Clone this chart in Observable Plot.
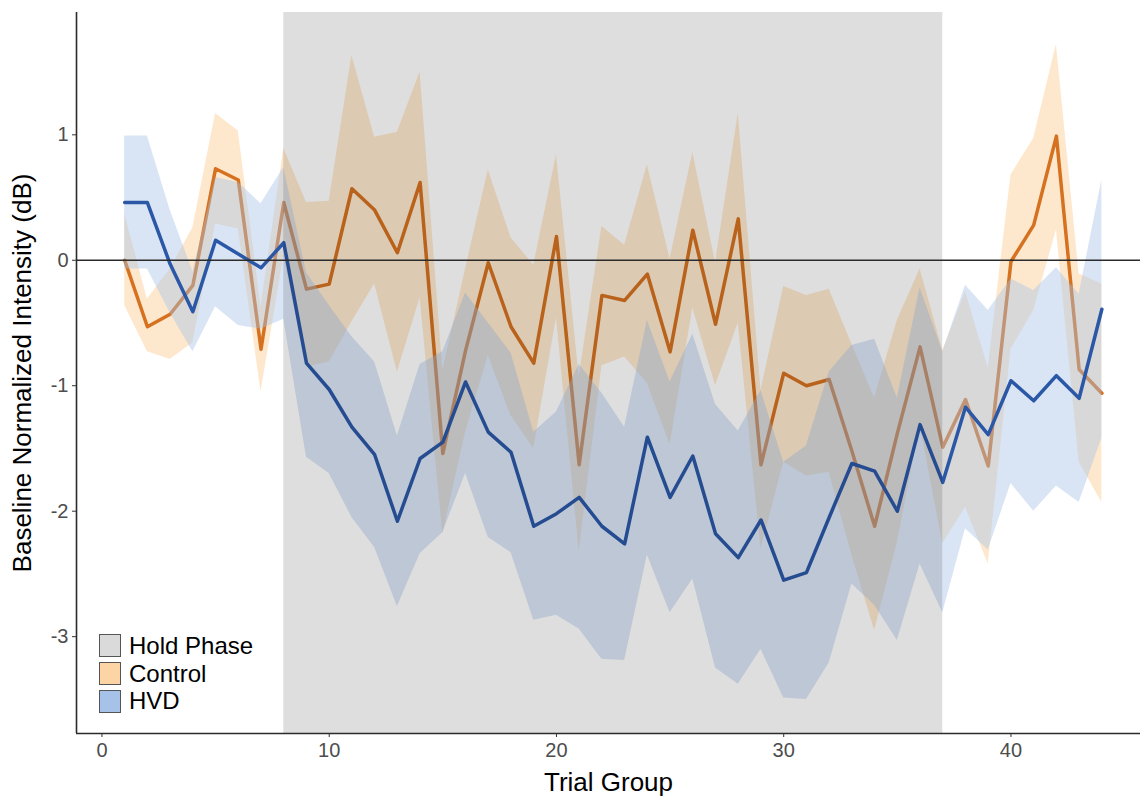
<!DOCTYPE html>
<html>
<head>
<meta charset="utf-8">
<script src="https://cdn.jsdelivr.net/npm/d3@7"></script>
<script src="https://cdn.jsdelivr.net/npm/@observablehq/plot@0.6"></script>
<style>
  body { margin: 0; background: #fff; font-family: "Liberation Sans", Arial, sans-serif; }
  #wrap { position: relative; width: 1142px; height: 796px; }
  #legend { position: absolute; left: 99px; top: 632px; }
  .row { display: flex; align-items: center; height: 27.8px; }
  .key { width: 20px; height: 21px; border: 1.5px solid #555; box-sizing: content-box; }
  .lab { display: inline-block; font-size: 24px; color: #000; margin-left: 8px; height: 24px; line-height: 24px; white-space: nowrap; }
</style>
</head>
<body>
<div id="wrap"></div>
<script>
// ---- data ----
const trials = d3.range(1, 45);
const control = [0.00, -0.53, -0.43, -0.20, 0.73, 0.64, -0.71, 0.46, -0.23, -0.19, 0.57, 0.40, 0.06, 0.62, -1.54, -0.72, -0.02, -0.53, -0.82, 0.19, -1.63, -0.28, -0.32, -0.11, -0.73, 0.24, -0.51, 0.33, -1.63, -0.90, -1.00, -0.95, -1.52, -2.12, -1.38, -0.69, -1.49, -1.11, -1.64, -0.01, 0.28, 0.99, -0.87, -1.06];
const controlHi = [0.37, -0.31, -0.07, 0.26, 1.17, 1.03, -0.37, 0.89, 0.46, 0.47, 1.63, 0.98, 1.02, 1.50, -0.88, -0.07, 0.72, 0.18, -0.04, 0.84, -0.93, 0.27, 0.12, 0.76, 0.01, 0.86, -0.02, 1.17, -1.04, -0.21, -0.28, -0.23, -0.67, -1.10, -0.48, -0.07, -0.72, -0.25, -0.86, 0.68, 0.97, 1.72, -0.11, -0.19];
const controlLo = [-0.36, -0.73, -0.79, -0.66, 0.29, 0.25, -1.05, 0.03, -0.85, -0.81, -0.49, -0.19, -0.89, -0.30, -2.18, -1.37, -0.76, -1.24, -1.50, -0.46, -2.32, -0.84, -0.77, -0.98, -1.47, -0.38, -1.00, -0.50, -2.30, -1.61, -1.72, -1.69, -2.35, -2.95, -2.25, -1.31, -2.26, -1.97, -2.42, -0.71, -0.40, 0.24, -1.61, -1.93];
const hvd = [0.46, 0.46, -0.03, -0.41, 0.16, 0.05, -0.06, 0.14, -0.82, -1.03, -1.33, -1.55, -2.08, -1.58, -1.45, -0.97, -1.37, -1.53, -2.12, -2.02, -1.89, -2.12, -2.26, -1.41, -1.89, -1.56, -2.18, -2.37, -2.07, -2.55, -2.49, -2.05, -1.62, -1.68, -2.00, -1.31, -1.77, -1.17, -1.39, -0.96, -1.12, -0.92, -1.10, -0.39];
const hvdHi = [0.99, 0.99, 0.40, -0.09, 0.66, 0.62, 0.45, 0.74, -0.10, -0.36, -0.61, -0.81, -1.40, -0.83, -0.73, -0.26, -0.50, -0.74, -1.37, -1.21, -0.83, -1.06, -1.33, -0.48, -0.97, -0.59, -1.15, -1.36, -1.04, -1.61, -1.48, -0.89, -0.68, -0.63, -1.10, -0.22, -0.73, -0.20, -0.40, -0.15, -0.24, -0.06, -0.27, 0.64];
const hvdLo = [-0.07, -0.07, -0.42, -0.73, -0.37, -0.52, -0.55, -0.47, -1.57, -1.70, -2.05, -2.29, -2.76, -2.34, -2.17, -1.70, -2.21, -2.33, -2.87, -2.83, -2.94, -3.18, -3.19, -2.35, -2.81, -2.54, -3.25, -3.38, -3.10, -3.49, -3.50, -3.21, -2.58, -2.75, -3.03, -2.42, -2.81, -2.14, -2.31, -1.78, -2.00, -1.80, -1.93, -1.42];
const holdPhase = [{start: 8, end: 37}];
const xTicks = [0, 10, 20, 30, 40];
const yTicks = [-3, -2, -1, 0, 1];
const xDomain = [-1.12, 45.7];
const yDomain = [-3.772, 1.975];
const xTitle = "Trial Group";
const yTitle = "Baseline Normalized Intensity (dB)";
const legendItems = [
  {label: "Hold Phase", color: "#dadada"},
  {label: "Control", color: "#fdd5a4"},
  {label: "HVD", color: "#a6c2e8"}
];

const ctl = trials.map((t, i) => ({t, y: control[i], lo: controlLo[i], hi: controlHi[i]}));
const hv = trials.map((t, i) => ({t, y: hvd[i], lo: hvdLo[i], hi: hvdHi[i]}));

const ORANGE = "#d5711f", BLUE = "#2b57a7";

const chart = Plot.plot({
  width: 1142,
  height: 796,
  marginLeft: 76,
  marginRight: 2,
  marginTop: 12,
  marginBottom: 63,
  style: {fontFamily: "'Liberation Sans', Arial, sans-serif", background: "#fff"},
  x: {domain: xDomain},
  y: {domain: yDomain},
  marks: [
    Plot.areaY(ctl, {x: "t", y1: "lo", y2: "hi", fill: "#fdd5a4", fillOpacity: 0.55}),
    Plot.line(ctl, {x: "t", y: "y", stroke: ORANGE, strokeWidth: 3.5}),
    Plot.areaY(hv, {x: "t", y1: "lo", y2: "hi", fill: "#a6c2e8", fillOpacity: 0.43}),
    Plot.line(hv, {x: "t", y: "y", stroke: BLUE, strokeWidth: 3.5}),
    Plot.rect(holdPhase, {x1: "start", x2: "end", fill: "black", fillOpacity: 0.13}),
    Plot.ruleY([0], {stroke: "#2b2b2b", strokeWidth: 1.4}),
    Plot.ruleX([xDomain[0]], {stroke: "#2b2b2b", strokeWidth: 1.6}),
    Plot.ruleY([yDomain[0]], {stroke: "#2b2b2b", strokeWidth: 1.6}),
    Plot.axisX({ticks: xTicks, tickSize: 4, tickPadding: 5, fontSize: 20, stroke: "#333", fill: "#4d4d4d", label: null, tickFormat: d => `${d}`}),
    Plot.axisY({ticks: yTicks, tickSize: 4, tickPadding: 4, fontSize: 20, stroke: "#333", fill: "#4d4d4d", label: null, tickFormat: d => `${d}`}),
    Plot.text([xTitle], {frameAnchor: "bottom", dy: 49, lineAnchor: "middle", textAnchor: "middle", fontSize: 26, fill: "#000"}),
    Plot.text([yTitle], {frameAnchor: "left", rotate: -90, dx: -54, lineAnchor: "middle", textAnchor: "middle", fontSize: 26, fill: "#000"})
  ]
});
const wrap = document.getElementById("wrap");
wrap.appendChild(chart);

const legend = document.createElement("div");
legend.id = "legend";
for (const it of legendItems) {
  const row = document.createElement("div");
  row.className = "row";
  const key = document.createElement("div");
  key.className = "key";
  key.style.background = it.color;
  const lab = document.createElement("span");
  lab.className = "lab";
  lab.textContent = it.label;
  row.appendChild(key);
  row.appendChild(lab);
  legend.appendChild(row);
}
wrap.appendChild(legend);
</script>
</body>
</html>
